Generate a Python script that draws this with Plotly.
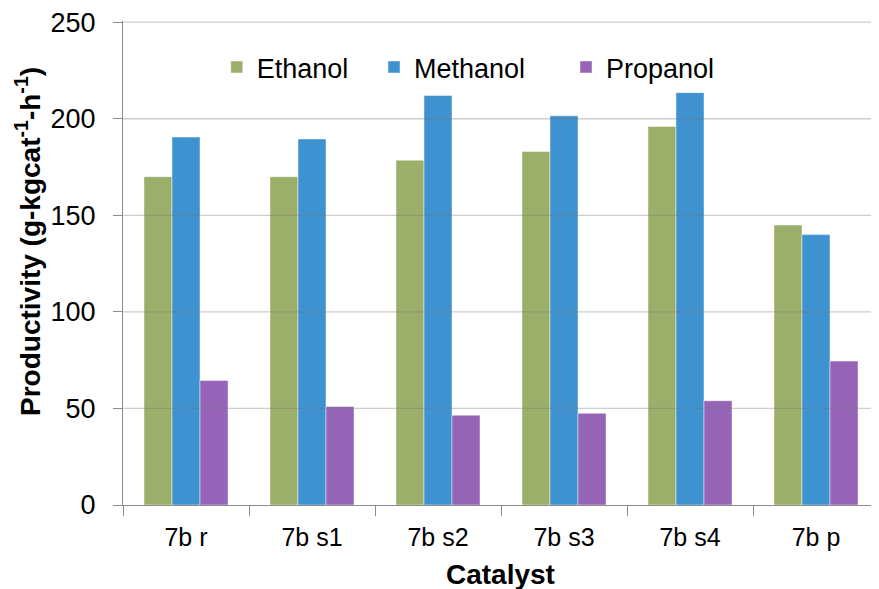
import plotly.graph_objects as go

categories = ["7b r", "7b s1", "7b s2", "7b s3", "7b s4", "7b p"]
ethanol = [170, 170, 178.5, 183, 196, 145]
methanol = [190.5, 189.5, 212, 201.5, 213.5, 140]
propanol = [64.5, 51, 46.5, 47.5, 54, 74.5]
series_names = ["Ethanol", "Methanol", "Propanol"]
series_colors = ["#9BAF6B", "#3E92D0", "#9564B6"]
y_ticks = [0, 50, 100, 150, 200, 250]

FONT = "Liberation Sans, Arial, sans-serif"
legend_ids = ["legend2", "legend3", "legend4"]
legend_x = [0.124, 0.332, 0.586]

fig = go.Figure()
for name, vals, col, lg in zip(series_names, [ethanol, methanol, propanol], series_colors, legend_ids):
    fig.add_trace(go.Bar(
        x=categories, y=vals, name=name, legend=lg,
        marker=dict(color=col, line=dict(color="rgba(255,255,255,0.45)", width=1)),
    ))

# gridlines drawn over the bars, as in the original
for t in y_ticks[1:]:
    fig.add_shape(type="line", xref="paper", yref="y", x0=0, x1=1, y0=t, y1=t,
                  line=dict(color="rgba(120,120,120,0.36)", width=1.3), layer="above")

legend_common = dict(orientation="h", y=0.904, xanchor="left", yanchor="middle",
                     font=dict(size=27, family=FONT, color="black"),
                     bgcolor="rgba(0,0,0,0)", itemwidth=30)

fig.update_layout(
    width=871, height=581,
    margin=dict(l=115, r=0, t=13, b=84),
    paper_bgcolor="white", plot_bgcolor="white",
    font=dict(family=FONT, size=24, color="black"),
    barmode="group", bargap=0.333, bargroupgap=0,
    showlegend=True,
    legend2=dict(x=legend_x[0], **legend_common),
    legend3=dict(x=legend_x[1], **legend_common),
    legend4=dict(x=legend_x[2], **legend_common),
    xaxis=dict(
        automargin=False,
        showline=True, linecolor="#8c8c8c", linewidth=1.3,
        ticks="outside", ticklen=10, tickcolor="#8c8c8c", tickson="boundaries",
        tickfont=dict(size=25, family=FONT),
        ticklabelstandoff=10,
    ),
    yaxis=dict(
        automargin=False,
        range=[0, 250.6], tickvals=y_ticks, showgrid=False,
        showline=True, linecolor="#8c8c8c", linewidth=1.3,
        ticks="outside", ticklen=9, tickcolor="#8c8c8c",
        tickfont=dict(size=27, family=FONT),
        ticklabelstandoff=12, ticklabeloverflow="allow",
        zeroline=False,
    ),
)

fig.add_annotation(
    text="<b>Productivity (g-kgcat<sup>-1</sup>-h<sup>-1</sup>)</b>",
    xref="paper", yref="paper", x=(28 - 123) / 756, y=(505 - 242) / 484,
    xanchor="center", yanchor="middle", textangle=-90, showarrow=False,
    font=dict(size=28, family=FONT, color="black"),
)
fig.add_annotation(
    text="<b>Catalyst</b>",
    xref="paper", yref="paper", x=(500 - 123) / 756, y=(505 - 574) / 484,
    xanchor="center", yanchor="middle", showarrow=False,
    font=dict(size=28, family=FONT, color="black"),
)

fig.write_html("out.html")
